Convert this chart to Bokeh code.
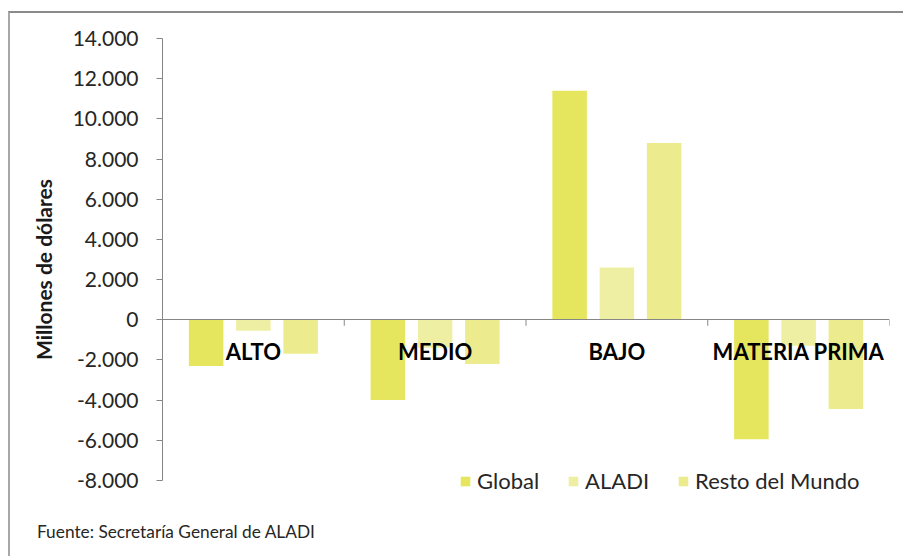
from bokeh.plotting import figure
from bokeh.models import (FactorRange, Range1d, FixedTicker, CustomJSTickFormatter,
                          Legend, LegendItem, ColumnDataSource, InlineStyleSheet, Div)
from bokeh.layouts import column
from bokeh.transform import dodge
from bokeh.embed import file_html
from bokeh.resources import INLINE

categories = ["ALTO", "MEDIO", "BAJO", "MATERIA PRIMA"]
global_vals = [-2300, -4000, 11400, -5950]
aladi_vals = [-550, -1400, 2600, -1300]
resto_vals = [-1700, -2200, 8800, -4450]
series = ["Global", "ALADI", "Resto del Mundo"]
y_ticks = [-8000, -6000, -4000, -2000, 0, 2000, 4000, 6000, 8000, 10000, 12000, 14000]
source_note = "Fuente: Secretaría General de ALADI"

colors = ["#E6E65E", "#EFEFA4", "#ECEC8E"]
FONT = "Lato"

source = ColumnDataSource(dict(cat=categories, g=global_vals, a=aladi_vals, r=resto_vals))

frame_css = InlineStyleSheet(css="""
:host { position: relative; }
:host::after {
  content: "";
  position: absolute;
  left: 8px; top: 11px; right: -40px; bottom: -80px;
  border-top: 2px solid #8a8a8a;
  border-left: 2px solid #a8a8a8;
  pointer-events: none;
  z-index: 10;
}
""")

p = figure(x_range=FactorRange(*categories, range_padding=0),
           y_range=Range1d(-9000, 14000),
           width=895, height=505, output_backend="svg", toolbar_location=None,
           min_border_left=162, min_border_right=6, min_border_top=38, min_border_bottom=5,
           stylesheets=[frame_css])
p.outline_line_color = None
p.grid.visible = False
p.background_fill_color = "white"

renderers = []
for col, off, c in zip(["g", "a", "r"], [-0.26, 0.0, 0.26], colors):
    r = p.vbar(x=dodge("cat", off, range=p.x_range), top=col, bottom=0, width=0.19,
               source=source, fill_color=c, line_color=None)
    renderers.append(r)

# category divider ticks (Excel style, below the zero line)
p.segment(x0=dodge("cat", 0.5, range=p.x_range), x1=dodge("cat", 0.5, range=p.x_range),
          y0=0, y1=-300, source=source, line_color="#868686", line_width=1)

# y axis
yax = p.yaxis[0]
yax.ticker = FixedTicker(ticks=y_ticks)
yax.bounds = (-8000, 14000)
yax.formatter = CustomJSTickFormatter(code="""
    return Math.round(tick).toString().replace(/\\B(?=(\\d{3})+(?!\\d))/g, ".");
""")
yax.axis_line_color = "#868686"
yax.major_tick_line_color = "#868686"
yax.major_tick_out = 6
yax.major_tick_in = 0
yax.minor_tick_line_color = None
yax.major_label_text_font = FONT
yax.major_label_text_font_size = "21px"
yax.major_label_text_color = "#262626"
yax.major_label_standoff = 18
yax.axis_label = "Millones de dólares"
yax.axis_label_text_font = FONT
yax.axis_label_text_font_size = "21px"
yax.axis_label_text_font_style = "bold"
yax.axis_label_text_color = "#1a1a1a"
yax.axis_label_standoff = 14

# x axis at zero
xax = p.xaxis[0]
xax.fixed_location = 0
xax.axis_line_color = "#868686"
xax.major_tick_line_color = None
xax.minor_tick_line_color = None
xax.major_label_text_font = FONT
xax.major_label_text_font_size = "22px"
xax.major_label_text_font_style = "bold"
xax.major_label_text_color = "black"
xax.major_label_standoff = 12

legend = Legend(items=[LegendItem(label=s, renderers=[r]) for s, r in zip(series, renderers)],
                orientation="horizontal", location=(297, 6),
                label_text_font=FONT, label_text_font_size="22px", label_text_color="#262626",
                glyph_width=12, glyph_height=12, label_standoff=6, spacing=28,
                padding=0, margin=0, border_line_color=None, background_fill_alpha=0,
                label_height=20)
p.add_layout(legend, "center")

note = Div(text=source_note, width=895, height=48, margin=(0, 0, 0, 0),
           styles={"font-family": "Lato", "font-size": "17.3px", "color": "#262626",
                   "padding-left": "37px", "padding-top": "17px", "line-height": "20px",
                   "box-sizing": "border-box", "background": "white"})

layout = column(p, note, spacing=0)

open("out.html", "w").write(file_html(layout, INLINE))
